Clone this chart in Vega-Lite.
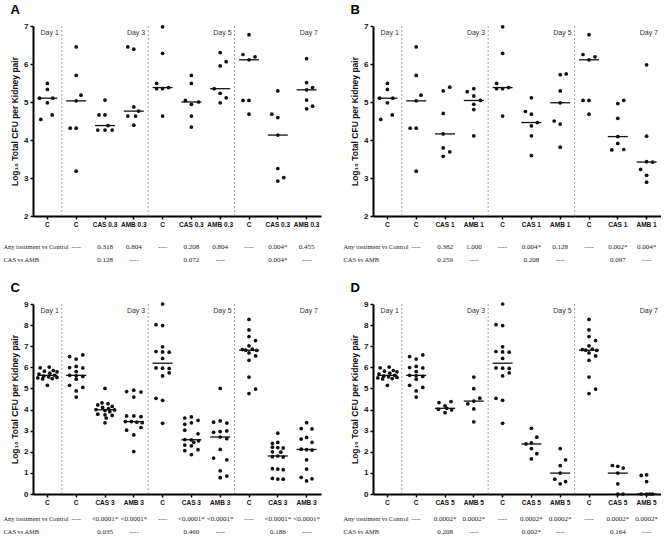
{
  "$schema": "https://vega.github.io/schema/vega-lite/v6.json",
  "padding": {"left": 3, "top": 4, "right": 0, "bottom": 0},
  "background": "white",
  "config": {
    "view": {"stroke": null},
    "font": "Liberation Sans",
    "axis": {"domainColor": "#000", "domainWidth": 2, "tickColor": "#000", "tickWidth": 1.5, "tickSize": 3, "labelFont": "Liberation Sans", "labelFontWeight": "bold", "labelColor": "#111", "grid": false, "titleFont": "Liberation Sans", "titleFontWeight": "bold", "titleColor": "#111"},
    "axisX": {"labelFontSize": 6.5, "labelAngle": 0, "labelPadding": 2},
    "axisY": {"labelFontSize": 8, "titleFontSize": 8.5, "titlePadding": 4},
    "title": {"font": "Liberation Sans", "fontSize": 13, "fontWeight": "bold", "color": "#000", "anchor": "start", "frame": "bounds", "offset": 5}
  },
  "datasets": {
    "seps": [{"g": "3C"}, {"g": "5C"}, {"g": "7C"}],
    "days": [{"g": "1C", "d": "Day 1"}, {"g": "3A", "d": "Day 3"}, {"g": "5A", "d": "Day 5"}, {"g": "7A", "d": "Day 7"}],
    "pts": [
      {"p":"AB","g":"1C","v":5.49,"j":0},{"p":"AB","g":"1C","v":5.33,"j":0},{"p":"AB","g":"1C","v":5.10,"j":-1.3},{"p":"AB","g":"1C","v":5.10,"j":0.9},{"p":"AB","g":"1C","v":4.98,"j":0},{"p":"AB","g":"1C","v":4.66,"j":0.8},{"p":"AB","g":"1C","v":4.54,"j":-1.1},
      {"p":"AB","g":"3C","v":6.45,"j":0},{"p":"AB","g":"3C","v":5.70,"j":0},{"p":"AB","g":"3C","v":5.18,"j":0.8},{"p":"AB","g":"3C","v":5.03,"j":0},{"p":"AB","g":"3C","v":4.31,"j":-1},{"p":"AB","g":"3C","v":4.31,"j":0},{"p":"AB","g":"3C","v":3.18,"j":0},
      {"p":"AB","g":"5C","v":6.98,"j":0},{"p":"AB","g":"5C","v":6.28,"j":0},{"p":"AB","g":"5C","v":5.49,"j":-1},{"p":"AB","g":"5C","v":5.38,"j":1},{"p":"AB","g":"5C","v":5.35,"j":-1},{"p":"AB","g":"5C","v":5.35,"j":0},{"p":"AB","g":"5C","v":4.63,"j":0},
      {"p":"AB","g":"7C","v":6.77,"j":0},{"p":"AB","g":"7C","v":6.25,"j":-1},{"p":"AB","g":"7C","v":6.19,"j":1},{"p":"AB","g":"7C","v":6.11,"j":0},{"p":"AB","g":"7C","v":5.04,"j":-1},{"p":"AB","g":"7C","v":5.04,"j":0},{"p":"AB","g":"7C","v":4.68,"j":0},
      {"p":"A","g":"3S","v":5.05,"j":0},{"p":"A","g":"3S","v":4.66,"j":-1},{"p":"A","g":"3S","v":4.66,"j":0},{"p":"A","g":"3S","v":4.38,"j":0.5},{"p":"A","g":"3S","v":4.26,"j":-1.2},{"p":"A","g":"3S","v":4.26,"j":0},{"p":"A","g":"3S","v":4.26,"j":1.2},
      {"p":"A","g":"3A","v":6.45,"j":-1},{"p":"A","g":"3A","v":6.39,"j":0},{"p":"A","g":"3A","v":4.87,"j":0},{"p":"A","g":"3A","v":4.76,"j":0.8},{"p":"A","g":"3A","v":4.63,"j":-1},{"p":"A","g":"3A","v":4.63,"j":0.3},{"p":"A","g":"3A","v":4.39,"j":0},
      {"p":"A","g":"5S","v":5.70,"j":0},{"p":"A","g":"5S","v":5.49,"j":0},{"p":"A","g":"5S","v":5.04,"j":-1},{"p":"A","g":"5S","v":5.00,"j":1.2},{"p":"A","g":"5S","v":4.94,"j":0},{"p":"A","g":"5S","v":4.63,"j":0},{"p":"A","g":"5S","v":4.34,"j":0},
      {"p":"A","g":"5A","v":6.30,"j":0},{"p":"A","g":"5A","v":6.06,"j":1},{"p":"A","g":"5A","v":5.95,"j":0},{"p":"A","g":"5A","v":5.35,"j":-1},{"p":"A","g":"5A","v":5.23,"j":0},{"p":"A","g":"5A","v":5.11,"j":1},{"p":"A","g":"5A","v":4.98,"j":0},
      {"p":"A","g":"7S","v":5.29,"j":0},{"p":"A","g":"7S","v":4.68,"j":-1},{"p":"A","g":"7S","v":4.59,"j":0},{"p":"A","g":"7S","v":4.13,"j":0},{"p":"A","g":"7S","v":3.25,"j":0},{"p":"A","g":"7S","v":3.01,"j":1},{"p":"A","g":"7S","v":2.92,"j":0},
      {"p":"A","g":"7A","v":6.14,"j":0},{"p":"A","g":"7A","v":5.51,"j":0},{"p":"A","g":"7A","v":5.38,"j":1},{"p":"A","g":"7A","v":5.32,"j":0},{"p":"A","g":"7A","v":5.05,"j":0},{"p":"A","g":"7A","v":4.89,"j":1},{"p":"A","g":"7A","v":4.82,"j":0},
      {"p":"B","g":"3S","v":5.39,"j":0.8},{"p":"B","g":"3S","v":5.29,"j":-0.3},{"p":"B","g":"3S","v":4.70,"j":-0.3},{"p":"B","g":"3S","v":4.16,"j":-0.3},{"p":"B","g":"3S","v":3.79,"j":-0.3},{"p":"B","g":"3S","v":3.69,"j":0.8},{"p":"B","g":"3S","v":3.57,"j":-0.3},
      {"p":"B","g":"3A","v":5.35,"j":0},{"p":"B","g":"3A","v":5.27,"j":-1.1},{"p":"B","g":"3A","v":5.16,"j":0},{"p":"B","g":"3A","v":5.04,"j":1.1},{"p":"B","g":"3A","v":4.94,"j":0},{"p":"B","g":"3A","v":4.80,"j":0},{"p":"B","g":"3A","v":4.11,"j":0},
      {"p":"B","g":"5S","v":5.11,"j":0},{"p":"B","g":"5S","v":4.75,"j":-1},{"p":"B","g":"5S","v":4.68,"j":0},{"p":"B","g":"5S","v":4.46,"j":1},{"p":"B","g":"5S","v":4.37,"j":0},{"p":"B","g":"5S","v":4.11,"j":0},{"p":"B","g":"5S","v":3.59,"j":0},
      {"p":"B","g":"5A","v":5.74,"j":1},{"p":"B","g":"5A","v":5.72,"j":0},{"p":"B","g":"5A","v":5.29,"j":0},{"p":"B","g":"5A","v":4.98,"j":0},{"p":"B","g":"5A","v":4.50,"j":-1},{"p":"B","g":"5A","v":4.42,"j":0},{"p":"B","g":"5A","v":3.81,"j":0},
      {"p":"B","g":"7S","v":5.04,"j":1},{"p":"B","g":"7S","v":4.96,"j":0},{"p":"B","g":"7S","v":4.57,"j":0},{"p":"B","g":"7S","v":4.09,"j":0},{"p":"B","g":"7S","v":3.91,"j":0},{"p":"B","g":"7S","v":3.75,"j":1},{"p":"B","g":"7S","v":3.74,"j":-1},
      {"p":"B","g":"7A","v":5.98,"j":0},{"p":"B","g":"7A","v":4.10,"j":0},{"p":"B","g":"7A","v":3.43,"j":0},{"p":"B","g":"7A","v":3.42,"j":1},{"p":"B","g":"7A","v":3.23,"j":-1},{"p":"B","g":"7A","v":3.07,"j":0},{"p":"B","g":"7A","v":2.89,"j":0},
      {"p":"CD","g":"1C","v":6.01,"j":0.3},{"p":"CD","g":"1C","v":5.98,"j":-1.2},{"p":"CD","g":"1C","v":5.85,"j":1},{"p":"CD","g":"1C","v":5.82,"j":-0.5},{"p":"CD","g":"1C","v":5.79,"j":1.6},{"p":"CD","g":"1C","v":5.72,"j":0.4},{"p":"CD","g":"1C","v":5.68,"j":-1.4},{"p":"CD","g":"1C","v":5.62,"j":1.2},{"p":"CD","g":"1C","v":5.58,"j":-0.6},{"p":"CD","g":"1C","v":5.55,"j":0.2},{"p":"CD","g":"1C","v":5.52,"j":1.6},{"p":"CD","g":"1C","v":5.50,"j":-1.6},{"p":"CD","g":"1C","v":5.47,"j":0.8},{"p":"CD","g":"1C","v":5.45,"j":-0.8},{"p":"CD","g":"1C","v":5.15,"j":0},
      {"p":"CD","g":"3C","v":6.59,"j":1.1},{"p":"CD","g":"3C","v":6.51,"j":-1.1},{"p":"CD","g":"3C","v":6.39,"j":0},{"p":"CD","g":"3C","v":6.04,"j":0},{"p":"CD","g":"3C","v":5.99,"j":-1.1},{"p":"CD","g":"3C","v":5.97,"j":1.1},{"p":"CD","g":"3C","v":5.80,"j":0},{"p":"CD","g":"3C","v":5.62,"j":-1.1},{"p":"CD","g":"3C","v":5.60,"j":0},{"p":"CD","g":"3C","v":5.57,"j":1.1},{"p":"CD","g":"3C","v":5.44,"j":0},{"p":"CD","g":"3C","v":5.15,"j":-1.1},{"p":"CD","g":"3C","v":5.05,"j":1.1},{"p":"CD","g":"3C","v":4.88,"j":0},{"p":"CD","g":"3C","v":4.59,"j":0},
      {"p":"CD","g":"5C","v":9.00,"j":0},{"p":"CD","g":"5C","v":8.02,"j":-1.1},{"p":"CD","g":"5C","v":7.98,"j":0},{"p":"CD","g":"5C","v":6.97,"j":0},{"p":"CD","g":"5C","v":6.75,"j":-1.1},{"p":"CD","g":"5C","v":6.73,"j":0},{"p":"CD","g":"5C","v":6.72,"j":1.1},{"p":"CD","g":"5C","v":6.42,"j":0},{"p":"CD","g":"5C","v":5.97,"j":-1.1},{"p":"CD","g":"5C","v":5.96,"j":0},{"p":"CD","g":"5C","v":5.95,"j":1.1},{"p":"CD","g":"5C","v":5.74,"j":1.1},{"p":"CD","g":"5C","v":5.59,"j":0},{"p":"CD","g":"5C","v":4.53,"j":-1.1},{"p":"CD","g":"5C","v":4.44,"j":0},{"p":"CD","g":"5C","v":3.35,"j":0},
      {"p":"CD","g":"7C","v":8.27,"j":0},{"p":"CD","g":"7C","v":7.77,"j":0},{"p":"CD","g":"7C","v":7.46,"j":0},{"p":"CD","g":"7C","v":7.27,"j":1.1},{"p":"CD","g":"7C","v":7.02,"j":0},{"p":"CD","g":"7C","v":6.86,"j":0.55},{"p":"CD","g":"7C","v":6.84,"j":-1.1},{"p":"CD","g":"7C","v":6.81,"j":-0.55},{"p":"CD","g":"7C","v":6.80,"j":1.3},{"p":"CD","g":"7C","v":6.68,"j":0},{"p":"CD","g":"7C","v":6.54,"j":1.1},{"p":"CD","g":"7C","v":6.33,"j":0},{"p":"CD","g":"7C","v":5.54,"j":0},{"p":"CD","g":"7C","v":4.97,"j":1.1},{"p":"CD","g":"7C","v":4.76,"j":0},
      {"p":"C","g":"3S","v":5.00,"j":0},{"p":"C","g":"3S","v":4.32,"j":-0.5},{"p":"C","g":"3S","v":4.28,"j":0.5},{"p":"C","g":"3S","v":4.22,"j":-1.2},{"p":"C","g":"3S","v":4.15,"j":1.2},{"p":"C","g":"3S","v":4.10,"j":-0.4},{"p":"C","g":"3S","v":4.05,"j":0.6},{"p":"C","g":"3S","v":4.00,"j":-1.5},{"p":"C","g":"3S","v":3.98,"j":1.6},{"p":"C","g":"3S","v":3.95,"j":0},{"p":"C","g":"3S","v":3.90,"j":0.8},{"p":"C","g":"3S","v":3.78,"j":-1.2},{"p":"C","g":"3S","v":3.75,"j":0},{"p":"C","g":"3S","v":3.72,"j":1.2},{"p":"C","g":"3S","v":3.60,"j":0.2},{"p":"C","g":"3S","v":3.37,"j":0},
      {"p":"C","g":"3A","v":4.92,"j":0},{"p":"C","g":"3A","v":4.85,"j":-1.2},{"p":"C","g":"3A","v":4.83,"j":1.2},{"p":"C","g":"3A","v":4.59,"j":0},{"p":"C","g":"3A","v":3.70,"j":-1.2},{"p":"C","g":"3A","v":3.70,"j":0},{"p":"C","g":"3A","v":3.66,"j":1.2},{"p":"C","g":"3A","v":3.43,"j":-1.4},{"p":"C","g":"3A","v":3.43,"j":-0.4},{"p":"C","g":"3A","v":3.40,"j":0.5},{"p":"C","g":"3A","v":3.38,"j":1.4},{"p":"C","g":"3A","v":3.15,"j":1.2},{"p":"C","g":"3A","v":3.02,"j":-1.2},{"p":"C","g":"3A","v":2.80,"j":0},{"p":"C","g":"3A","v":2.01,"j":0},
      {"p":"C","g":"5S","v":3.65,"j":0},{"p":"C","g":"5S","v":3.60,"j":-1.1},{"p":"C","g":"5S","v":3.49,"j":1.1},{"p":"C","g":"5S","v":3.37,"j":0},{"p":"C","g":"5S","v":3.30,"j":-1.1},{"p":"C","g":"5S","v":3.02,"j":-1.1},{"p":"C","g":"5S","v":2.85,"j":1.1},{"p":"C","g":"5S","v":2.58,"j":-1.1},{"p":"C","g":"5S","v":2.56,"j":0},{"p":"C","g":"5S","v":2.52,"j":1.2},{"p":"C","g":"5S","v":2.45,"j":0.4},{"p":"C","g":"5S","v":2.32,"j":-1.1},{"p":"C","g":"5S","v":2.28,"j":0},{"p":"C","g":"5S","v":2.10,"j":1.1},{"p":"C","g":"5S","v":2.05,"j":-1.1},{"p":"C","g":"5S","v":1.87,"j":0},
      {"p":"C","g":"5A","v":5.00,"j":0},{"p":"C","g":"5A","v":3.46,"j":0},{"p":"C","g":"5A","v":3.40,"j":-1.1},{"p":"C","g":"5A","v":3.36,"j":1.1},{"p":"C","g":"5A","v":2.99,"j":1.1},{"p":"C","g":"5A","v":2.96,"j":0},{"p":"C","g":"5A","v":2.92,"j":-1.1},{"p":"C","g":"5A","v":2.70,"j":0},{"p":"C","g":"5A","v":2.62,"j":1.1},{"p":"C","g":"5A","v":2.11,"j":0},{"p":"C","g":"5A","v":1.70,"j":-1.1},{"p":"C","g":"5A","v":1.62,"j":1.1},{"p":"C","g":"5A","v":1.10,"j":0},{"p":"C","g":"5A","v":0.85,"j":1.1},{"p":"C","g":"5A","v":0.77,"j":0},
      {"p":"C","g":"7S","v":2.88,"j":0},{"p":"C","g":"7S","v":2.44,"j":0},{"p":"C","g":"7S","v":2.40,"j":-0.9},{"p":"C","g":"7S","v":2.22,"j":-0.9},{"p":"C","g":"7S","v":2.20,"j":0},{"p":"C","g":"7S","v":2.18,"j":0.9},{"p":"C","g":"7S","v":2.00,"j":-0.9},{"p":"C","g":"7S","v":1.98,"j":0.5},{"p":"C","g":"7S","v":1.80,"j":0},{"p":"C","g":"7S","v":1.77,"j":-0.9},{"p":"C","g":"7S","v":1.75,"j":0.9},{"p":"C","g":"7S","v":1.20,"j":-0.9},{"p":"C","g":"7S","v":1.18,"j":0},{"p":"C","g":"7S","v":1.15,"j":0.9},{"p":"C","g":"7S","v":0.74,"j":-0.9},{"p":"C","g":"7S","v":0.71,"j":0},{"p":"C","g":"7S","v":0.70,"j":0.9},
      {"p":"C","g":"7A","v":3.38,"j":0},{"p":"C","g":"7A","v":3.10,"j":-0.9},{"p":"C","g":"7A","v":3.08,"j":0.9},{"p":"C","g":"7A","v":2.68,"j":0},{"p":"C","g":"7A","v":2.60,"j":-0.9},{"p":"C","g":"7A","v":2.45,"j":0.9},{"p":"C","g":"7A","v":2.12,"j":-0.9},{"p":"C","g":"7A","v":2.10,"j":0},{"p":"C","g":"7A","v":2.08,"j":0.9},{"p":"C","g":"7A","v":1.62,"j":0},{"p":"C","g":"7A","v":1.18,"j":0},{"p":"C","g":"7A","v":0.79,"j":-0.9},{"p":"C","g":"7A","v":0.72,"j":0.9},{"p":"C","g":"7A","v":0.62,"j":0},
      {"p":"D","g":"3S","v":4.38,"j":1},{"p":"D","g":"3S","v":4.33,"j":-1},{"p":"D","g":"3S","v":4.17,"j":0},{"p":"D","g":"3S","v":4.06,"j":0.3},{"p":"D","g":"3S","v":4.01,"j":-1.1},{"p":"D","g":"3S","v":3.98,"j":1.1},{"p":"D","g":"3S","v":3.85,"j":0},
      {"p":"D","g":"3A","v":5.54,"j":0},{"p":"D","g":"3A","v":4.99,"j":0},{"p":"D","g":"3A","v":4.54,"j":1},{"p":"D","g":"3A","v":4.40,"j":0},{"p":"D","g":"3A","v":4.27,"j":-1},{"p":"D","g":"3A","v":4.03,"j":0},{"p":"D","g":"3A","v":3.42,"j":0},
      {"p":"D","g":"5S","v":3.11,"j":0},{"p":"D","g":"5S","v":2.69,"j":0.9},{"p":"D","g":"5S","v":2.42,"j":0},{"p":"D","g":"5S","v":2.37,"j":-0.9},{"p":"D","g":"5S","v":2.15,"j":0},{"p":"D","g":"5S","v":1.91,"j":0.9},{"p":"D","g":"5S","v":1.66,"j":0},
      {"p":"D","g":"5A","v":2.15,"j":0},{"p":"D","g":"5A","v":1.62,"j":0.9},{"p":"D","g":"5A","v":1.34,"j":0},{"p":"D","g":"5A","v":0.99,"j":0},{"p":"D","g":"5A","v":0.70,"j":-0.9},{"p":"D","g":"5A","v":0.59,"j":0.9},{"p":"D","g":"5A","v":0.48,"j":0},
      {"p":"D","g":"7S","v":1.35,"j":-0.9},{"p":"D","g":"7S","v":1.31,"j":0},{"p":"D","g":"7S","v":1.23,"j":0.9},{"p":"D","g":"7S","v":0.99,"j":0},{"p":"D","g":"7S","v":0.48,"j":0},{"p":"D","g":"7S","v":0.00,"j":0},{"p":"D","g":"7S","v":0.00,"j":0.9},
      {"p":"D","g":"7A","v":0.91,"j":0},{"p":"D","g":"7A","v":0.88,"j":-0.9},{"p":"D","g":"7A","v":0.59,"j":0},{"p":"D","g":"7A","v":0.00,"j":-0.9},{"p":"D","g":"7A","v":0.00,"j":0},{"p":"D","g":"7A","v":0.00,"j":0.5},{"p":"D","g":"7A","v":0.00,"j":1.0}
    ],
    "tab": [
      {"p":"A","g":"3C","r":"Any treatment vs Control","t":"----"},{"p":"A","g":"3S","r":"Any treatment vs Control","t":"0.318"},{"p":"A","g":"3A","r":"Any treatment vs Control","t":"0.804"},{"p":"A","g":"5C","r":"Any treatment vs Control","t":"----"},{"p":"A","g":"5S","r":"Any treatment vs Control","t":"0.208"},{"p":"A","g":"5A","r":"Any treatment vs Control","t":"0.804"},{"p":"A","g":"7C","r":"Any treatment vs Control","t":"----"},{"p":"A","g":"7S","r":"Any treatment vs Control","t":"0.004*"},{"p":"A","g":"7A","r":"Any treatment vs Control","t":"0.455"},
      {"p":"A","g":"3S","r":"CAS vs AMB","t":"0.128"},{"p":"A","g":"3A","r":"CAS vs AMB","t":"----"},{"p":"A","g":"5S","r":"CAS vs AMB","t":"0.072"},{"p":"A","g":"5A","r":"CAS vs AMB","t":"----"},{"p":"A","g":"7S","r":"CAS vs AMB","t":"0.004*"},{"p":"A","g":"7A","r":"CAS vs AMB","t":"----"},
      {"p":"B","g":"3C","r":"Any treatment vs Control","t":"----"},{"p":"B","g":"3S","r":"Any treatment vs Control","t":"0.382"},{"p":"B","g":"3A","r":"Any treatment vs Control","t":"1.000"},{"p":"B","g":"5C","r":"Any treatment vs Control","t":"----"},{"p":"B","g":"5S","r":"Any treatment vs Control","t":"0.004*"},{"p":"B","g":"5A","r":"Any treatment vs Control","t":"0.128"},{"p":"B","g":"7C","r":"Any treatment vs Control","t":"----"},{"p":"B","g":"7S","r":"Any treatment vs Control","t":"0.002*"},{"p":"B","g":"7A","r":"Any treatment vs Control","t":"0.004*"},
      {"p":"B","g":"3S","r":"CAS vs AMB","t":"0.259"},{"p":"B","g":"3A","r":"CAS vs AMB","t":"----"},{"p":"B","g":"5S","r":"CAS vs AMB","t":"0.208"},{"p":"B","g":"5A","r":"CAS vs AMB","t":"----"},{"p":"B","g":"7S","r":"CAS vs AMB","t":"0.097"},{"p":"B","g":"7A","r":"CAS vs AMB","t":"----"},
      {"p":"C","g":"3C","r":"Any treatment vs Control","t":"----"},{"p":"C","g":"3S","r":"Any treatment vs Control","t":"<0.0001*"},{"p":"C","g":"3A","r":"Any treatment vs Control","t":"<0.0001*"},{"p":"C","g":"5C","r":"Any treatment vs Control","t":"----"},{"p":"C","g":"5S","r":"Any treatment vs Control","t":"<0.0001*"},{"p":"C","g":"5A","r":"Any treatment vs Control","t":"<0.0001*"},{"p":"C","g":"7C","r":"Any treatment vs Control","t":"----"},{"p":"C","g":"7S","r":"Any treatment vs Control","t":"<0.0001*"},{"p":"C","g":"7A","r":"Any treatment vs Control","t":"<0.0001*"},
      {"p":"C","g":"3S","r":"CAS vs AMB","t":"0.035"},{"p":"C","g":"3A","r":"CAS vs AMB","t":"----"},{"p":"C","g":"5S","r":"CAS vs AMB","t":"0.460"},{"p":"C","g":"5A","r":"CAS vs AMB","t":"----"},{"p":"C","g":"7S","r":"CAS vs AMB","t":"0.186"},{"p":"C","g":"7A","r":"CAS vs AMB","t":"----"},
      {"p":"D","g":"3C","r":"Any treatment vs Control","t":"----"},{"p":"D","g":"3S","r":"Any treatment vs Control","t":"0.0002*"},{"p":"D","g":"3A","r":"Any treatment vs Control","t":"0.0002*"},{"p":"D","g":"5C","r":"Any treatment vs Control","t":"----"},{"p":"D","g":"5S","r":"Any treatment vs Control","t":"0.0002*"},{"p":"D","g":"5A","r":"Any treatment vs Control","t":"0.0002*"},{"p":"D","g":"7C","r":"Any treatment vs Control","t":"----"},{"p":"D","g":"7S","r":"Any treatment vs Control","t":"0.0002*"},{"p":"D","g":"7A","r":"Any treatment vs Control","t":"0.0002*"},
      {"p":"D","g":"3S","r":"CAS vs AMB","t":"0.208"},{"p":"D","g":"3A","r":"CAS vs AMB","t":"----"},{"p":"D","g":"5S","r":"CAS vs AMB","t":"0.002*"},{"p":"D","g":"5A","r":"CAS vs AMB","t":"----"},{"p":"D","g":"7S","r":"CAS vs AMB","t":"0.164"},{"p":"D","g":"7A","r":"CAS vs AMB","t":"----"}
    ]
  },
  "vconcat": [
    {
      "hconcat": [
        {
          "vconcat": [
            {
              "width": 288, "height": 190,
              "title": {"text": "A"},
              "layer": [
                {"data": {"name": "seps"}, "mark": {"type": "rule", "color": "#8a8a8a", "strokeDash": [2, 2], "strokeWidth": 0.8},
                 "encoding": {"x": {"field": "g", "type": "nominal", "bandPosition": 0, "scale": {"domain": ["1C","3C","3S","3A","5C","5S","5A","7C","7S","7A"], "paddingInner": 0, "paddingOuter": 0}, "axis": {"title": null, "labelExpr": "substring(datum.value,1,2)=='S' ? 'CAS 0.3' : substring(datum.value,1,2)=='A' ? 'AMB 0.3' : 'C'"}}}},
                {"data": {"name": "days"}, "mark": {"type": "text", "align": "right", "baseline": "top", "dx": -3, "dy": 3, "fontSize": 7, "color": "#333"},
                 "encoding": {"x": {"field": "g", "type": "nominal", "bandPosition": 1, "scale": {"domain": ["1C","3C","3S","3A","5C","5S","5A","7C","7S","7A"], "paddingInner": 0, "paddingOuter": 0}, "axis": {"title": null, "labelExpr": "substring(datum.value,1,2)=='S' ? 'CAS 0.3' : substring(datum.value,1,2)=='A' ? 'AMB 0.3' : 'C'"}},
                  "y": {"datum": 7, "type": "quantitative", "scale": {"domain": [2, 7], "nice": false, "zero": false}, "axis": {"title": "Log₁₀ Total CFU per Kidney pair", "values": [2,3,4,5,6,7]}},
                  "text": {"field": "d"}}},
                {"data": {"name": "pts"}, "transform": [{"filter": "indexof(datum.p,'A')>=0"}], "mark": {"type": "circle", "size": 14, "color": "#111", "opacity": 1},
                 "encoding": {"x": {"field": "g", "type": "nominal", "scale": {"domain": ["1C","3C","3S","3A","5C","5S","5A","7C","7S","7A"], "paddingInner": 0, "paddingOuter": 0}, "axis": {"title": null, "labelExpr": "substring(datum.value,1,2)=='S' ? 'CAS 0.3' : substring(datum.value,1,2)=='A' ? 'AMB 0.3' : 'C'"}},
                  "xOffset": {"field": "j", "type": "quantitative", "scale": {"domain": [-2.4, 2.4], "range": [0, 28.8]}},
                  "y": {"field": "v", "type": "quantitative", "scale": {"domain": [2, 7], "nice": false, "zero": false}, "axis": {"title": "Log₁₀ Total CFU per Kidney pair", "values": [2,3,4,5,6,7]}}}},
                {"data": {"name": "pts"}, "transform": [{"filter": "indexof(datum.p,'A')>=0"}], "mark": {"type": "tick", "orient": "horizontal", "size": 20, "thickness": 1.3, "color": "#111"},
                 "encoding": {"x": {"field": "g", "type": "nominal", "scale": {"domain": ["1C","3C","3S","3A","5C","5S","5A","7C","7S","7A"], "paddingInner": 0, "paddingOuter": 0}, "axis": {"title": null, "labelExpr": "substring(datum.value,1,2)=='S' ? 'CAS 0.3' : substring(datum.value,1,2)=='A' ? 'AMB 0.3' : 'C'"}},
                  "y": {"aggregate": "median", "field": "v", "type": "quantitative", "scale": {"domain": [2, 7], "nice": false, "zero": false}, "axis": {"title": "Log₁₀ Total CFU per Kidney pair", "values": [2,3,4,5,6,7]}}}}
              ]
            },
            {
              "width": 288, "height": 26,
              "data": {"name": "tab"},
              "transform": [{"filter": "datum.p=='A'"}],
              "mark": {"type": "text", "font": "Liberation Serif", "fontSize": 7, "color": "#222", "baseline": "middle"},
              "encoding": {
                "x": {"field": "g", "type": "nominal", "scale": {"domain": ["1C","3C","3S","3A","5C","5S","5A","7C","7S","7A"], "paddingInner": 0, "paddingOuter": 0}, "axis": null},
                "y": {"field": "r", "type": "nominal", "scale": {"domain": ["Any treatment vs Control", "CAS vs AMB"]}, "axis": {"title": null, "domain": false, "ticks": false, "labelAlign": "left", "labelPadding": 30, "labelFont": "Liberation Serif", "labelFontSize": 6.4, "labelFontWeight": "normal", "labelColor": "#222"}},
                "text": {"field": "t"}
              }
            }
          ],
          "spacing": 12
        },
        {
          "vconcat": [
            {
              "width": 288, "height": 190,
              "title": {"text": "B"},
              "layer": [
                {"data": {"name": "seps"}, "mark": {"type": "rule", "color": "#8a8a8a", "strokeDash": [2, 2], "strokeWidth": 0.8},
                 "encoding": {"x": {"field": "g", "type": "nominal", "bandPosition": 0, "scale": {"domain": ["1C","3C","3S","3A","5C","5S","5A","7C","7S","7A"], "paddingInner": 0, "paddingOuter": 0}, "axis": {"title": null, "labelExpr": "substring(datum.value,1,2)=='S' ? 'CAS 1' : substring(datum.value,1,2)=='A' ? 'AMB 1' : 'C'"}}}},
                {"data": {"name": "days"}, "mark": {"type": "text", "align": "right", "baseline": "top", "dx": -3, "dy": 3, "fontSize": 7, "color": "#333"},
                 "encoding": {"x": {"field": "g", "type": "nominal", "bandPosition": 1, "scale": {"domain": ["1C","3C","3S","3A","5C","5S","5A","7C","7S","7A"], "paddingInner": 0, "paddingOuter": 0}, "axis": {"title": null, "labelExpr": "substring(datum.value,1,2)=='S' ? 'CAS 1' : substring(datum.value,1,2)=='A' ? 'AMB 1' : 'C'"}},
                  "y": {"datum": 7, "type": "quantitative", "scale": {"domain": [2, 7], "nice": false, "zero": false}, "axis": {"title": "Log₁₀ Total CFU per Kidney pair", "values": [2,3,4,5,6,7]}},
                  "text": {"field": "d"}}},
                {"data": {"name": "pts"}, "transform": [{"filter": "indexof(datum.p,'B')>=0"}], "mark": {"type": "circle", "size": 14, "color": "#111", "opacity": 1},
                 "encoding": {"x": {"field": "g", "type": "nominal", "scale": {"domain": ["1C","3C","3S","3A","5C","5S","5A","7C","7S","7A"], "paddingInner": 0, "paddingOuter": 0}, "axis": {"title": null, "labelExpr": "substring(datum.value,1,2)=='S' ? 'CAS 1' : substring(datum.value,1,2)=='A' ? 'AMB 1' : 'C'"}},
                  "xOffset": {"field": "j", "type": "quantitative", "scale": {"domain": [-2.4, 2.4], "range": [0, 28.8]}},
                  "y": {"field": "v", "type": "quantitative", "scale": {"domain": [2, 7], "nice": false, "zero": false}, "axis": {"title": "Log₁₀ Total CFU per Kidney pair", "values": [2,3,4,5,6,7]}}}},
                {"data": {"name": "pts"}, "transform": [{"filter": "indexof(datum.p,'B')>=0"}], "mark": {"type": "tick", "orient": "horizontal", "size": 20, "thickness": 1.3, "color": "#111"},
                 "encoding": {"x": {"field": "g", "type": "nominal", "scale": {"domain": ["1C","3C","3S","3A","5C","5S","5A","7C","7S","7A"], "paddingInner": 0, "paddingOuter": 0}, "axis": {"title": null, "labelExpr": "substring(datum.value,1,2)=='S' ? 'CAS 1' : substring(datum.value,1,2)=='A' ? 'AMB 1' : 'C'"}},
                  "y": {"aggregate": "median", "field": "v", "type": "quantitative", "scale": {"domain": [2, 7], "nice": false, "zero": false}, "axis": {"title": "Log₁₀ Total CFU per Kidney pair", "values": [2,3,4,5,6,7]}}}}
              ]
            },
            {
              "width": 288, "height": 26,
              "data": {"name": "tab"},
              "transform": [{"filter": "datum.p=='B'"}],
              "mark": {"type": "text", "font": "Liberation Serif", "fontSize": 7, "color": "#222", "baseline": "middle"},
              "encoding": {
                "x": {"field": "g", "type": "nominal", "scale": {"domain": ["1C","3C","3S","3A","5C","5S","5A","7C","7S","7A"], "paddingInner": 0, "paddingOuter": 0}, "axis": null},
                "y": {"field": "r", "type": "nominal", "scale": {"domain": ["Any treatment vs Control", "CAS vs AMB"]}, "axis": {"title": null, "domain": false, "ticks": false, "labelAlign": "left", "labelPadding": 30, "labelFont": "Liberation Serif", "labelFontSize": 6.4, "labelFontWeight": "normal", "labelColor": "#222"}},
                "text": {"field": "t"}
              }
            }
          ],
          "spacing": 12
        }
      ],
      "spacing": 22
    },
    {
      "hconcat": [
        {
          "vconcat": [
            {
              "width": 288, "height": 190,
              "title": {"text": "C"},
              "layer": [
                {"data": {"name": "seps"}, "mark": {"type": "rule", "color": "#8a8a8a", "strokeDash": [2, 2], "strokeWidth": 0.8},
                 "encoding": {"x": {"field": "g", "type": "nominal", "bandPosition": 0, "scale": {"domain": ["1C","3C","3S","3A","5C","5S","5A","7C","7S","7A"], "paddingInner": 0, "paddingOuter": 0}, "axis": {"title": null, "labelExpr": "substring(datum.value,1,2)=='S' ? 'CAS 3' : substring(datum.value,1,2)=='A' ? 'AMB 3' : 'C'"}}}},
                {"data": {"name": "days"}, "mark": {"type": "text", "align": "right", "baseline": "top", "dx": -3, "dy": 3, "fontSize": 7, "color": "#333"},
                 "encoding": {"x": {"field": "g", "type": "nominal", "bandPosition": 1, "scale": {"domain": ["1C","3C","3S","3A","5C","5S","5A","7C","7S","7A"], "paddingInner": 0, "paddingOuter": 0}, "axis": {"title": null, "labelExpr": "substring(datum.value,1,2)=='S' ? 'CAS 3' : substring(datum.value,1,2)=='A' ? 'AMB 3' : 'C'"}},
                  "y": {"datum": 9, "type": "quantitative", "scale": {"domain": [0, 9], "nice": false}, "axis": {"title": "Log₁₀ Total CFU per Kidney pair", "values": [0,1,2,3,4,5,6,7,8,9]}},
                  "text": {"field": "d"}}},
                {"data": {"name": "pts"}, "transform": [{"filter": "indexof(datum.p,'C')>=0"}], "mark": {"type": "circle", "size": 14, "color": "#111", "opacity": 1},
                 "encoding": {"x": {"field": "g", "type": "nominal", "scale": {"domain": ["1C","3C","3S","3A","5C","5S","5A","7C","7S","7A"], "paddingInner": 0, "paddingOuter": 0}, "axis": {"title": null, "labelExpr": "substring(datum.value,1,2)=='S' ? 'CAS 3' : substring(datum.value,1,2)=='A' ? 'AMB 3' : 'C'"}},
                  "xOffset": {"field": "j", "type": "quantitative", "scale": {"domain": [-2.4, 2.4], "range": [0, 28.8]}},
                  "y": {"field": "v", "type": "quantitative", "scale": {"domain": [0, 9], "nice": false}, "axis": {"title": "Log₁₀ Total CFU per Kidney pair", "values": [0,1,2,3,4,5,6,7,8,9]}}}},
                {"data": {"name": "pts"}, "transform": [{"filter": "indexof(datum.p,'C')>=0"}], "mark": {"type": "tick", "orient": "horizontal", "size": 20, "thickness": 1.3, "color": "#111"},
                 "encoding": {"x": {"field": "g", "type": "nominal", "scale": {"domain": ["1C","3C","3S","3A","5C","5S","5A","7C","7S","7A"], "paddingInner": 0, "paddingOuter": 0}, "axis": {"title": null, "labelExpr": "substring(datum.value,1,2)=='S' ? 'CAS 3' : substring(datum.value,1,2)=='A' ? 'AMB 3' : 'C'"}},
                  "y": {"aggregate": "median", "field": "v", "type": "quantitative", "scale": {"domain": [0, 9], "nice": false}, "axis": {"title": "Log₁₀ Total CFU per Kidney pair", "values": [0,1,2,3,4,5,6,7,8,9]}}}}
              ]
            },
            {
              "width": 288, "height": 26,
              "data": {"name": "tab"},
              "transform": [{"filter": "datum.p=='C'"}],
              "mark": {"type": "text", "font": "Liberation Serif", "fontSize": 7, "color": "#222", "baseline": "middle"},
              "encoding": {
                "x": {"field": "g", "type": "nominal", "scale": {"domain": ["1C","3C","3S","3A","5C","5S","5A","7C","7S","7A"], "paddingInner": 0, "paddingOuter": 0}, "axis": null},
                "y": {"field": "r", "type": "nominal", "scale": {"domain": ["Any treatment vs Control", "CAS vs AMB"]}, "axis": {"title": null, "domain": false, "ticks": false, "labelAlign": "left", "labelPadding": 30, "labelFont": "Liberation Serif", "labelFontSize": 6.4, "labelFontWeight": "normal", "labelColor": "#222"}},
                "text": {"field": "t"}
              }
            }
          ],
          "spacing": 6
        },
        {
          "vconcat": [
            {
              "width": 288, "height": 190,
              "title": {"text": "D"},
              "layer": [
                {"data": {"name": "seps"}, "mark": {"type": "rule", "color": "#8a8a8a", "strokeDash": [2, 2], "strokeWidth": 0.8},
                 "encoding": {"x": {"field": "g", "type": "nominal", "bandPosition": 0, "scale": {"domain": ["1C","3C","3S","3A","5C","5S","5A","7C","7S","7A"], "paddingInner": 0, "paddingOuter": 0}, "axis": {"title": null, "labelExpr": "substring(datum.value,1,2)=='S' ? 'CAS 5' : substring(datum.value,1,2)=='A' ? 'AMB 5' : 'C'"}}}},
                {"data": {"name": "days"}, "mark": {"type": "text", "align": "right", "baseline": "top", "dx": -3, "dy": 3, "fontSize": 7, "color": "#333"},
                 "encoding": {"x": {"field": "g", "type": "nominal", "bandPosition": 1, "scale": {"domain": ["1C","3C","3S","3A","5C","5S","5A","7C","7S","7A"], "paddingInner": 0, "paddingOuter": 0}, "axis": {"title": null, "labelExpr": "substring(datum.value,1,2)=='S' ? 'CAS 5' : substring(datum.value,1,2)=='A' ? 'AMB 5' : 'C'"}},
                  "y": {"datum": 9, "type": "quantitative", "scale": {"domain": [0, 9], "nice": false}, "axis": {"title": "Log₁₀ Total CFU per Kidney pair", "values": [0,1,2,3,4,5,6,7,8,9]}},
                  "text": {"field": "d"}}},
                {"data": {"name": "pts"}, "transform": [{"filter": "indexof(datum.p,'D')>=0"}], "mark": {"type": "circle", "size": 14, "color": "#111", "opacity": 1},
                 "encoding": {"x": {"field": "g", "type": "nominal", "scale": {"domain": ["1C","3C","3S","3A","5C","5S","5A","7C","7S","7A"], "paddingInner": 0, "paddingOuter": 0}, "axis": {"title": null, "labelExpr": "substring(datum.value,1,2)=='S' ? 'CAS 5' : substring(datum.value,1,2)=='A' ? 'AMB 5' : 'C'"}},
                  "xOffset": {"field": "j", "type": "quantitative", "scale": {"domain": [-2.4, 2.4], "range": [0, 28.8]}},
                  "y": {"field": "v", "type": "quantitative", "scale": {"domain": [0, 9], "nice": false}, "axis": {"title": "Log₁₀ Total CFU per Kidney pair", "values": [0,1,2,3,4,5,6,7,8,9]}}}},
                {"data": {"name": "pts"}, "transform": [{"filter": "indexof(datum.p,'D')>=0"}], "mark": {"type": "tick", "orient": "horizontal", "size": 20, "thickness": 1.3, "color": "#111"},
                 "encoding": {"x": {"field": "g", "type": "nominal", "scale": {"domain": ["1C","3C","3S","3A","5C","5S","5A","7C","7S","7A"], "paddingInner": 0, "paddingOuter": 0}, "axis": {"title": null, "labelExpr": "substring(datum.value,1,2)=='S' ? 'CAS 5' : substring(datum.value,1,2)=='A' ? 'AMB 5' : 'C'"}},
                  "y": {"aggregate": "median", "field": "v", "type": "quantitative", "scale": {"domain": [0, 9], "nice": false}, "axis": {"title": "Log₁₀ Total CFU per Kidney pair", "values": [0,1,2,3,4,5,6,7,8,9]}}}}
              ]
            },
            {
              "width": 288, "height": 26,
              "data": {"name": "tab"},
              "transform": [{"filter": "datum.p=='D'"}],
              "mark": {"type": "text", "font": "Liberation Serif", "fontSize": 7, "color": "#222", "baseline": "middle"},
              "encoding": {
                "x": {"field": "g", "type": "nominal", "scale": {"domain": ["1C","3C","3S","3A","5C","5S","5A","7C","7S","7A"], "paddingInner": 0, "paddingOuter": 0}, "axis": null},
                "y": {"field": "r", "type": "nominal", "scale": {"domain": ["Any treatment vs Control", "CAS vs AMB"]}, "axis": {"title": null, "domain": false, "ticks": false, "labelAlign": "left", "labelPadding": 30, "labelFont": "Liberation Serif", "labelFontSize": 6.4, "labelFontWeight": "normal", "labelColor": "#222"}},
                "text": {"field": "t"}
              }
            }
          ],
          "spacing": 6
        }
      ],
      "spacing": 22
    }
  ],
  "spacing": 16
}
